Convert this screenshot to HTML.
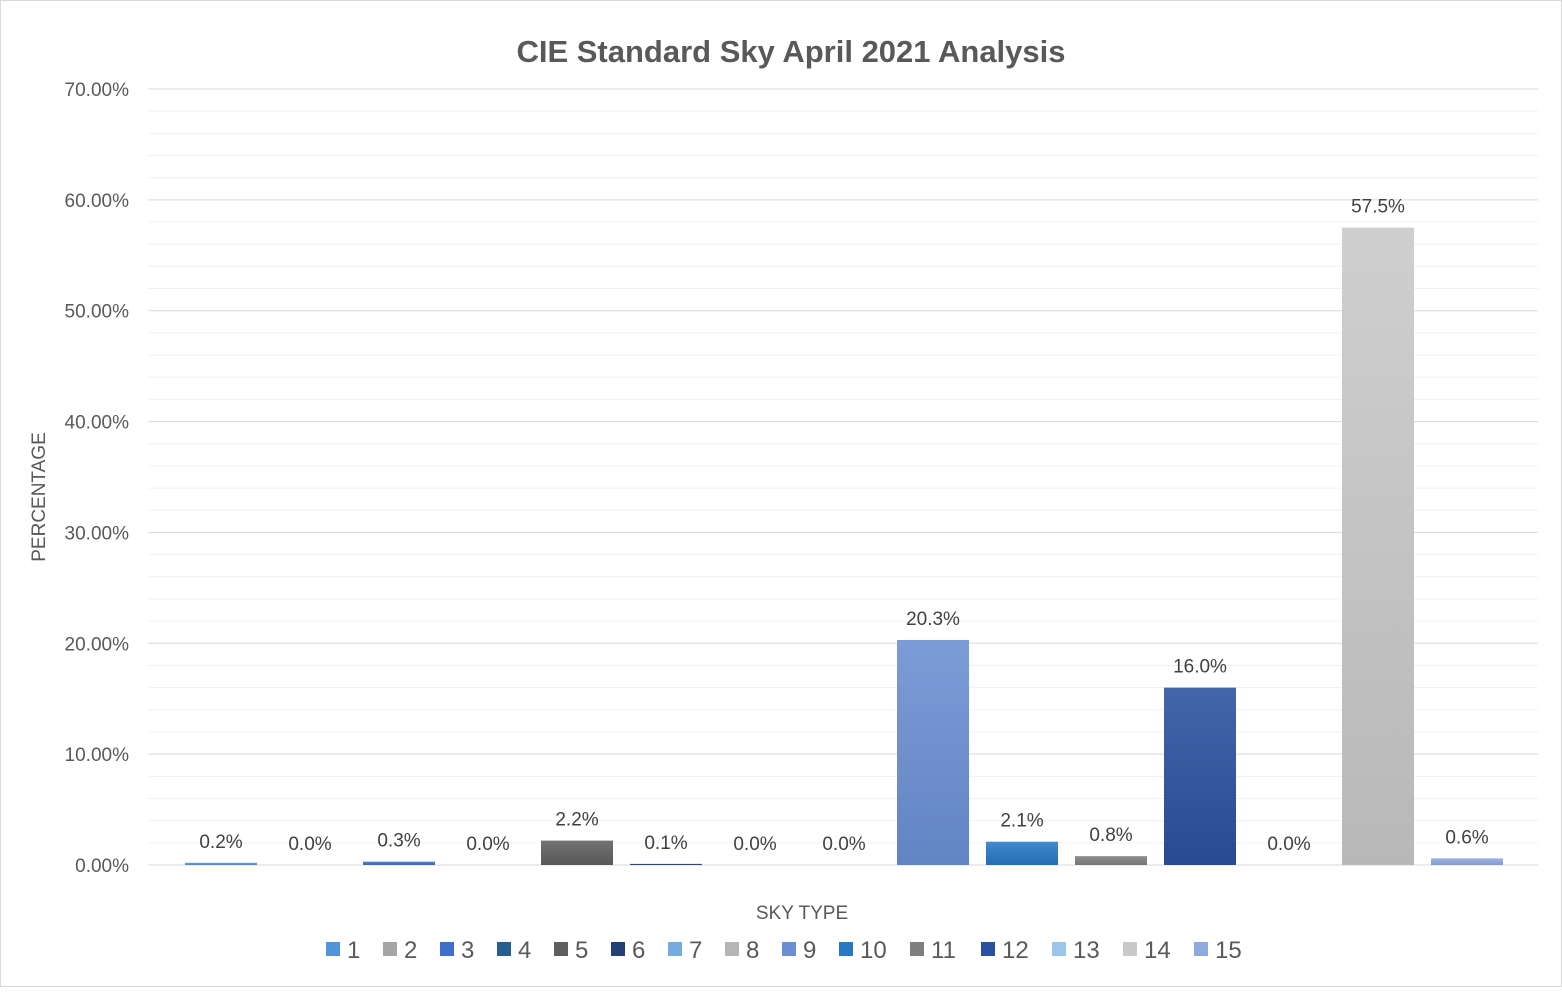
<!DOCTYPE html>
<html><head><meta charset="utf-8"><style>
body{margin:0;background:#fff;font-family:"Liberation Sans",sans-serif;}
svg text{font-family:"Liberation Sans",sans-serif;}
</style></head><body>
<svg id="c" width="1562" height="987">
<defs id="defs"></defs>
<rect x="0.5" y="0.5" width="1561" height="986" fill="#fff" stroke="#d9d9d9"/>
<text x="791" y="62" text-anchor="middle" font-size="31" font-weight="bold" fill="#595959">CIE Standard Sky April 2021 Analysis</text>
<text transform="translate(45,497) rotate(-90)" text-anchor="middle" font-size="19" fill="#595959">PERCENTAGE</text>
<text x="802" y="919" text-anchor="middle" font-size="19" fill="#595959">SKY TYPE</text>
<g id="grid"></g><g id="bars"></g><g id="legend"></g>
</svg>
<script>
const categories=["1","2","3","4","5","6","7","8","9","10","11","12","13","14","15"];
const values=[0.2,0.0,0.3,0.0,2.2,0.1,0.0,0.0,20.3,2.1,0.8,16.0,0.0,57.5,0.6];
const colors=["#4f95d8","#a5a5a5","#3f6fcc","#255e91","#5f5f5f","#233f78","#74acdf","#b5b5b5","#6a8fd3","#2778c6","#7f7f7f","#2a50a0","#9cc5ea","#c8c8c8","#8eaadf"];
const yTicks=[0,10,20,30,40,50,60,70];
const NS="http://www.w3.org/2000/svg";
const svg=document.getElementById('c');
const y0=865,yTop=89,yMax=70;
const y=v=>y0-(v/yMax)*(y0-yTop);
const x=i=>221+i*89;
function mk(t,a,p){const e=document.createElementNS(NS,t);for(const k in a)e.setAttribute(k,a[k]);p.appendChild(e);return e;}
const grid=document.getElementById('grid');
for(let v=0;v<=70;v+=2){
 const l=mk('line',{x1:148,x2:1538,y1:y(v),y2:y(v),stroke:v%10===0?'#d9d9d9':'#f0f0f0','stroke-width':1},grid);
 
 
}
yTicks.forEach(v=>{
 const t=mk('text',{x:129,y:y(v)+7,'text-anchor':'end','font-size':19,fill:'#595959'},grid);
 t.textContent=v.toFixed(2)+'%';
 
 
});
const defs=document.getElementById('defs');
function shade(hex,f){const n=parseInt(hex.slice(1),16);let r=n>>16,g=(n>>8)&255,b=n&255;const m=c=>Math.round(f>0?c+(255-c)*f:c*(1+f));return `rgb(${m(r)},${m(g)},${m(b)})`;}
const bars=document.getElementById('bars');
values.forEach((v,i)=>{
 const gr=mk('linearGradient',{id:'g'+i,x1:0,y1:0,x2:0,y2:1},defs);
 mk('stop',{offset:0,'stop-color':shade(colors[i],0.12)},gr);
 mk('stop',{offset:1,'stop-color':shade(colors[i],-0.08)},gr);
 const h=Math.max(y0-y(v),0);
 const r=mk('rect',{x:x(i)-36,y:y0-h,width:72,height:h,fill:'url(#g'+i+')'},bars);
 
 
 const t=mk('text',{x:x(i),y:y0-h-15,'text-anchor':'middle','font-size':19,fill:'#404040'},bars);
 t.textContent=v.toFixed(1)+'%';
 
 
});
const lg=document.getElementById('legend');
const lx=[326,383,440,497,554,611,668,725,782,839,910,981,1052,1123,1194];
categories.forEach((c,i)=>{
 const g=mk('g',{},lg);
 
 
 mk('rect',{x:lx[i],y:942,width:14,height:14,fill:colors[i]},g);
 const t=mk('text',{x:lx[i]+21,y:958,'font-size':24,fill:'#595959'},g);
 t.textContent=c;
});
</script>
</body></html>
